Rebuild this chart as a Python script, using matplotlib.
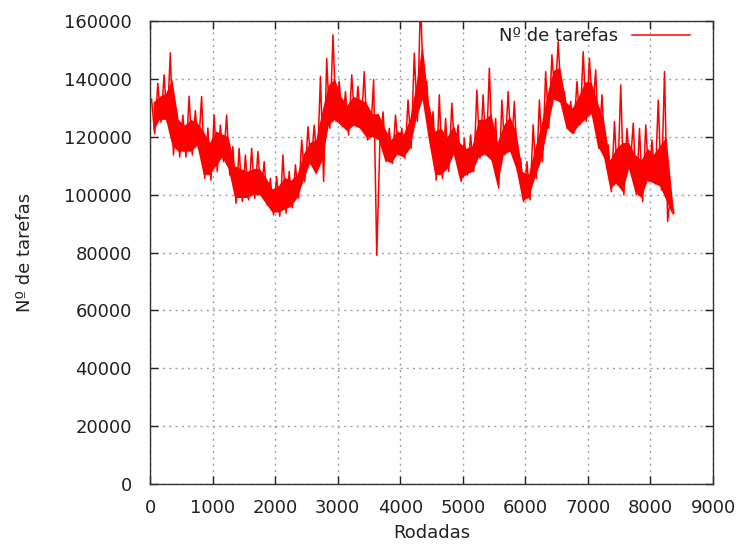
import numpy as np
import matplotlib
matplotlib.use("Agg")
from matplotlib import pyplot as plt

# Values, one entry per block of 100 rodadas.
block_start = list(range(0, 8400, 100))

# spike tips inside each block (in plot order)
tip_a = [
    133000, 138500, 141400, 149000, 128700, 127500, 134000, 129000, 133900, 123000,
    127500, 124000, 127500, 116600, 116000, 113700, 116000, 114900, 111400, 105600,
    106300, 113700, 108000, 110300, 118900, 123500, 124000, 140800, 147100, 155200,
    139100, 135600, 141400, 137400, 142500, 120000, 79000, 128600, 122900, 127500,
    122900, 132700, 148900, 168000, 139100, 128700, 134500, 126300, 131600, 124100,
    119400, 120600, 136200, 134500, 143700, 126300, 132700, 135600, 132200, 112600,
    111400, 124100, 132700, 142500, 148300, 152900, 135600, 132200, 139100, 149400,
    147100, 143100, 134500, 117200, 125300, 137900, 122900, 124700, 122900, 124100,
    118800, 132700, 142500, 100400,
]
tip_b = [
    121000, 125000, 125000, 113700, 113000, 113000, 113700, 116000, 105600, 105000,
    108000, 111400, 106800, 97000, 97600, 98200, 98700, 99900, 96400, 93000,
    92500, 93600, 95400, 98800, 104500, 110300, 110000, 104500, 122900, 125300,
    123600, 120600, 124100, 122900, 118900, 139700, 118000, 111400, 110800, 113700,
    112600, 116000, 125300, 132200, 118300, 105000, 105600, 108000, 113700, 104500,
    106800, 108000, 112600, 113700, 111400, 102200, 113700, 114900, 108000, 97600,
    98200, 105600, 111400, 122900, 133300, 132200, 122900, 121200, 124100, 125300,
    127500, 116000, 112600, 101000, 103300, 99900, 109100, 99900, 97600, 104500,
    103700, 101600, 90700, 93500,
]

# dense core of the trace in each block
core_lo = [
    122000, 126000, 126000, 117000, 115000, 115000, 115000, 117000, 107000, 107000,
    110000, 113000, 109000, 99000, 99000, 99000, 100000, 100000, 97000, 94000,
    94000, 95000, 96000, 99000, 105000, 111000, 107000, 112000, 124000, 126000,
    124000, 122000, 124000, 123000, 120000, 120000, 119000, 112000, 111000, 114000,
    113000, 116000, 126000, 133000, 119000, 107000, 107000, 109000, 114000, 105000,
    107000, 108000, 113000, 114000, 112000, 103000, 114000, 115000, 109000, 98000,
    99000, 106000, 112000, 123000, 133000, 132000, 123000, 121000, 124000, 126000,
    128000, 117000, 113000, 102000, 104000, 101000, 109000, 101000, 99000, 105000,
    104000, 103000, 98000, 93000,
]
core_hi = [
    132000, 134000, 135000, 140000, 126000, 124000, 126000, 125000, 122000, 118000,
    122000, 121000, 120000, 110000, 109000, 108000, 109000, 109000, 106000, 102000,
    103000, 106000, 105000, 107000, 114000, 118000, 119000, 129000, 138000, 140000,
    134000, 131000, 134000, 133000, 132000, 128000, 128000, 123000, 119000, 122000,
    121000, 126000, 138000, 152000, 132000, 122000, 123000, 120000, 124000, 118000,
    116000, 117000, 126000, 126000, 128000, 118000, 124000, 127000, 122000, 108000,
    107000, 116000, 124000, 135000, 143000, 144000, 132000, 130000, 134000, 139000,
    139000, 132000, 126000, 112000, 116000, 118000, 118000, 114000, 112000, 116000,
    114000, 117000, 120000, 98000,
]

rodadas = []
tarefas = []
for x0, a, b in zip(block_start, tip_a, tip_b):
    rodadas += [x0 + 25, x0 + 75]
    tarefas += [a, b]

fig = plt.figure(figsize=(7.39, 5.46), dpi=100)
ax = fig.add_axes([150 / 739, 62 / 546, 563 / 739, 463 / 546])

red = "#ff0000"
centres = [x0 + 50 for x0 in block_start]
ax.fill_between(centres, core_lo, core_hi, color=red, linewidth=0)
ax.plot(rodadas, tarefas, color=red, linewidth=1.1, label="Nº de tarefas")

ax.set_xlim(0, 9000)
ax.set_ylim(0, 160000)
ax.set_xticks(range(0, 9001, 1000))
ax.set_yticks(range(0, 160001, 20000))
ax.grid(True, color="#a0a0a0", linestyle=(0, (1.5, 3)), linewidth=1.0)
ax.set_axisbelow(True)

ax.tick_params(direction="in", length=6, width=1, top=True, right=True,
               labelsize=13, colors="#222222")
ax.tick_params(axis="x", pad=11)
ax.tick_params(axis="y", pad=13)
for s in ax.spines.values():
    s.set_color("#333333")
    s.set_linewidth(1.0)

ax.set_xlabel("Rodadas", fontsize=13, color="#222222", labelpad=5)
ax.set_ylabel("Nº de tarefas", fontsize=13, color="#222222", labelpad=22)

leg = ax.legend(loc="upper right", frameon=False, markerfirst=False,
                handlelength=3.2, handletextpad=0.8, fontsize=13,
                borderpad=0, borderaxespad=0,
                bbox_to_anchor=(0.959, 0.986))
for t in leg.get_texts():
    t.set_color("#222222")

fig.savefig("out.png", dpi=100)
